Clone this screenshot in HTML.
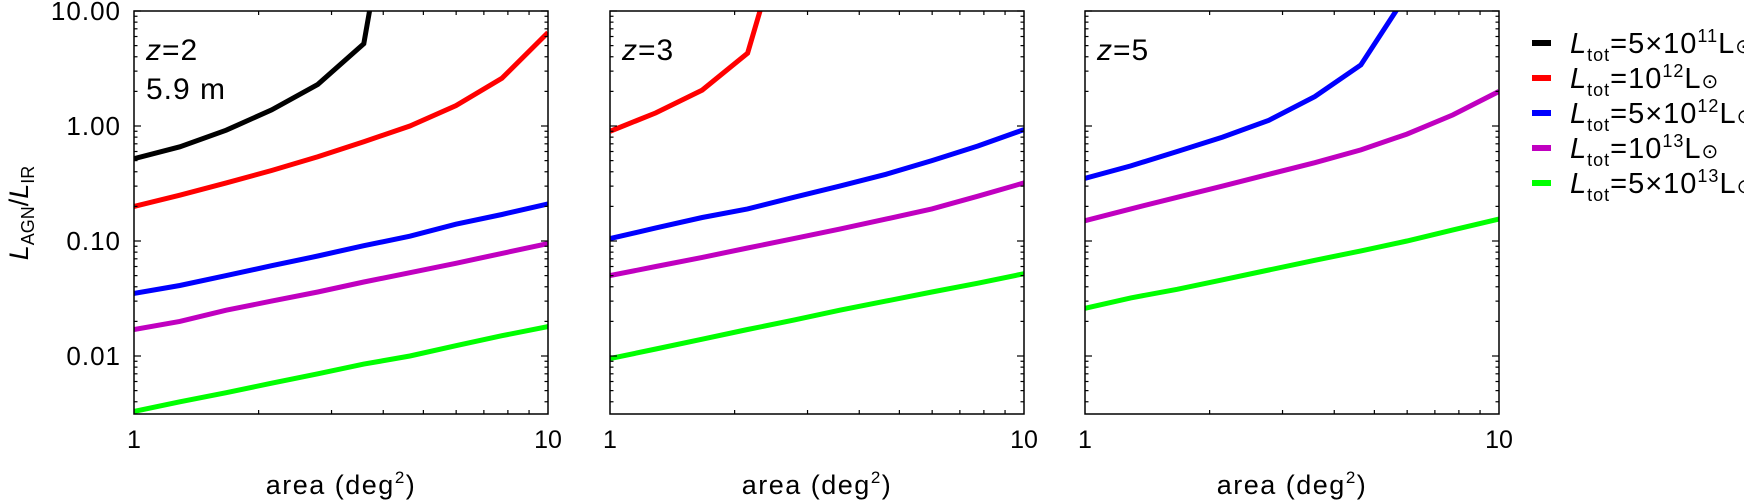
<!DOCTYPE html>
<html><head><meta charset="utf-8">
<style>
html,body{margin:0;padding:0;background:#fff;}
svg{display:block;font-family:"Liberation Sans",sans-serif;}
</style></head>
<body>
<svg id="chart" width="1744" height="504" viewBox="0 0 1744 504" xmlns="http://www.w3.org/2000/svg"></svg>
<script>
// ---- data ----
const areas = [1, 1.29, 1.67, 2.15, 2.78, 3.59, 4.64, 5.99, 7.74, 10];
const seriesNames = ["5e11", "1e12", "5e12", "1e13", "5e13"];
const seriesColors = ["#000000", "#ff0000", "#0000ff", "#c000c0", "#00ff00"];
const panelLabels = ["z=2", "z=3", "z=5"];
const yTickValues = [0.01, 0.1, 1, 10];
const yTickLabels = ["0.01", "0.10", "1.00", "10.00"];
const xTickValues = [1, 10];
const xTickLabels = ["1", "10"];
// panel z=2
const z2_black = [0.52, 0.66, 0.92, 1.38, 2.3, 5.2, 1000];
const z2_red = [0.2, 0.25, 0.32, 0.41, 0.54, 0.73, 1.0, 1.5, 2.6, 6.5];
const z2_blue = [0.035, 0.041, 0.050, 0.061, 0.074, 0.091, 0.11, 0.14, 0.17, 0.21];
const z2_magenta = [0.017, 0.020, 0.025, 0.030, 0.036, 0.044, 0.053, 0.064, 0.078, 0.095];
const z2_green = [0.0033, 0.0040, 0.0048, 0.0058, 0.0070, 0.0085, 0.010, 0.0123, 0.015, 0.018];
// panel z=3
const z3_red = [0.9, 1.3, 2.05, 4.3, 100];
const z3_blue = [0.105, 0.13, 0.16, 0.19, 0.24, 0.30, 0.38, 0.50, 0.67, 0.93];
const z3_magenta = [0.050, 0.060, 0.072, 0.087, 0.105, 0.127, 0.155, 0.19, 0.245, 0.32];
const z3_green = [0.0095, 0.0115, 0.0140, 0.0170, 0.0205, 0.025, 0.030, 0.036, 0.043, 0.052];
// panel z=5
const z5_blue = [0.35, 0.45, 0.6, 0.8, 1.12, 1.8, 3.4, 14];
const z5_magenta = [0.15, 0.19, 0.24, 0.30, 0.38, 0.48, 0.62, 0.85, 1.25, 2.0];
const z5_green = [0.026, 0.032, 0.038, 0.046, 0.056, 0.068, 0.082, 0.10, 0.125, 0.155];

const panelSeries = [
  [[0, z2_black], [1, z2_red], [2, z2_blue], [3, z2_magenta], [4, z2_green]],
  [[1, z3_red], [2, z3_blue], [3, z3_magenta], [4, z3_green]],
  [[2, z5_blue], [3, z5_magenta], [4, z5_green]]
];

const NS = "http://www.w3.org/2000/svg";
const svg = document.getElementById("chart");
function mk(tag, attrs, parent) {
  const e = document.createElementNS(NS, tag);
  for (const k in attrs) e.setAttribute(k, attrs[k]);
  (parent || svg).appendChild(e);
  return e;
}
const panelX = [134, 610, 1085];
const PW = 414, TOP = 11, BOT = 414;
function yScale(v) { return TOP + (1 - Math.log10(v)) * 115; }

panelX.forEach((x0, pi) => {
  const g = mk("g", {});
  
  
  const xScale = a => x0 + Math.log10(a) * PW;
  const cid = "clip" + pi;
  const cp = mk("clipPath", { id: cid }, g);
  mk("rect", { x: x0, y: TOP, width: PW, height: BOT - TOP }, cp);
  panelSeries[pi].forEach(([si, vals]) => {
    const pts = vals.map((v, i) => xScale(areas[i]).toFixed(1) + "," + yScale(v).toFixed(1)).join(" ");
    const pl = mk("polyline", { points: pts, fill: "none", stroke: seriesColors[si], "stroke-width": 5, "stroke-linejoin": "miter", "clip-path": "url(#" + cid + ")" }, g);
    
    
  });
  const fr = mk("rect", { x: x0, y: TOP, width: PW, height: BOT - TOP, fill: "none", stroke: "#000", "stroke-width": 1.5 }, g);
  
  
  for (let d = -3; d <= 1; d++) {
    for (let m = 1; m <= 9; m++) {
      const v = m * Math.pow(10, d);
      const y = yScale(v);
      if (y < TOP - 0.5 || y > BOT + 0.5) continue;
      const len = m === 1 ? 7 : 3.5;
      mk("line", { x1: x0, x2: x0 + len, y1: y, y2: y, stroke: "#000", "stroke-width": 1.2 }, g);
      mk("line", { x1: x0 + PW, x2: x0 + PW - len, y1: y, y2: y, stroke: "#000", "stroke-width": 1.2 }, g);
    }
  }
  for (let m = 2; m <= 9; m++) {
    const x = xScale(m);
    mk("line", { x1: x, x2: x, y1: BOT, y2: BOT - 4, stroke: "#000", "stroke-width": 1.2 }, g);
    mk("line", { x1: x, x2: x, y1: TOP, y2: TOP + 4, stroke: "#000", "stroke-width": 1.2 }, g);
  }
  xTickValues.forEach((v, i) => {
    const t = mk("text", { x: xScale(v), y: 448, "font-size": 25, "text-anchor": "middle" }, g);
    t.textContent = xTickLabels[i];
    
    
  });
  const xl = mk("text", { x: x0 + PW / 2, y: 494, "font-size": 27, "text-anchor": "middle", "letter-spacing": 1.5 }, g);
  xl.innerHTML = 'area (deg<tspan dy="-11" font-size="17">2</tspan><tspan dy="11">)</tspan>';
  
  
  const pl = mk("text", { x: x0 + 12, y: 60, "font-size": 30, "letter-spacing": 1 }, g);
  pl.innerHTML = '<tspan font-style="italic">z</tspan>=' + panelLabels[pi].split('=')[1];
  
  
  if (pi === 0) {
    const w = mk("text", { x: x0 + 12, y: 99, "font-size": 30, "letter-spacing": 1 }, g);
    w.textContent = "5.9  m";
    
    
    yTickValues.forEach((v, i) => {
      const t = mk("text", { x: 121, y: yScale(v) + 9, "font-size": 26, "text-anchor": "end", "letter-spacing": 1 }, g);
      t.textContent = yTickLabels[i];
      
      
    });
  }
});

const yt = mk("text", { x: 0, y: 0, "font-size": 27, "text-anchor": "middle", transform: "translate(28,213) rotate(-90)" });
yt.innerHTML = '<tspan font-style="italic">L</tspan><tspan dy="6" font-size="18">AGN</tspan><tspan dy="-6">/</tspan><tspan font-style="italic">L</tspan><tspan dy="6" font-size="18">IR</tspan>';



const legendExps = ["5×10<tspan dy='-11' font-size='18'>11</tspan>", "10<tspan dy='-11' font-size='18'>12</tspan>", "5×10<tspan dy='-11' font-size='18'>12</tspan>", "10<tspan dy='-11' font-size='18'>13</tspan>", "5×10<tspan dy='-11' font-size='18'>13</tspan>"];
legendExps.forEach((e, i) => {
  const y = 43 + i * 35;
  const g = mk("g", {});
  
  
  mk("rect", { x: 1532, y: y - 3, width: 19, height: 6, fill: seriesColors[i] }, g);
  const t = mk("text", { x: 1570, y: y + 10, "font-size": 29, "letter-spacing": 1 }, g);
  t.innerHTML = "<tspan font-style='italic'>L</tspan><tspan dy='8' font-size='18'>tot</tspan><tspan dy='-8'>=</tspan>" + e + "<tspan dy='11'>L</tspan><tspan font-size='20'>⊙</tspan>";
});
</script>
</body></html>
